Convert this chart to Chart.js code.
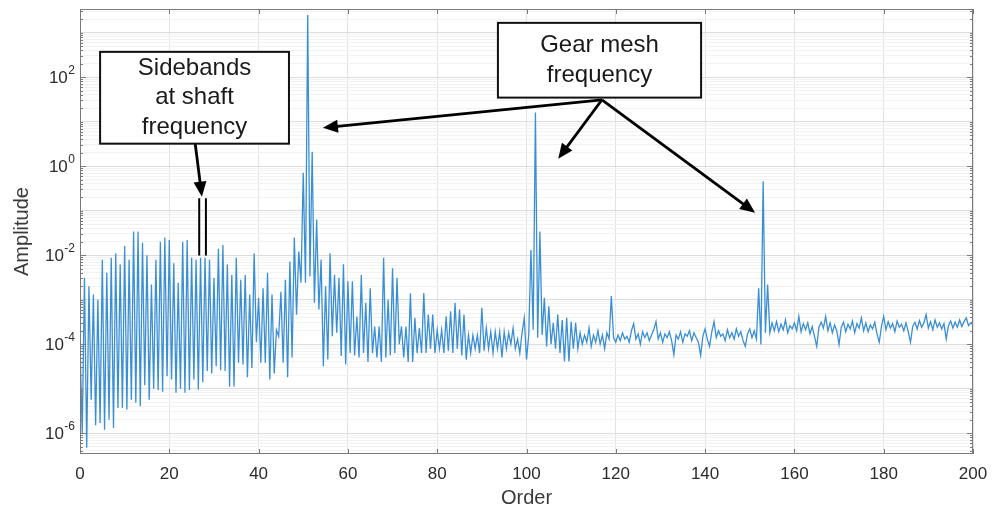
<!DOCTYPE html>
<html>
<head>
<meta charset="utf-8">
<title>Order spectrum</title>
<script src="https://cdn.jsdelivr.net/npm/chart.js@4.4.1/dist/chart.umd.min.js"></script>
<style>
  html, body { margin: 0; padding: 0; background: #fff; }
  #wrap { width: 1001px; height: 512px; position: relative; }
</style>
</head>
<body>
<div id="wrap"><canvas id="spectrum"></canvas></div>
<script>
// ── Data (one value every half order) ────────────────────────────
const ORDER_STEP   = 0.5;
const segmentStart = [0, 50, 100, 150];

// orders 0 – 49.5 : shaft-rate comb
const ampLowBand = [
  1e-4, 1e-6, 3.1e-3, 4.7e-7, 2.0e-3, 5.6e-6, 1.3e-3, 1.5e-6, 1.0e-3, 1.7e-6,
  7.9e-3, 1.2e-6, 4.0e-3, 2.0e-6, 8.7e-3, 1.3e-6, 1.1e-2, 3.7e-6, 6.2e-3, 3.7e-6,
  1.6e-2, 3.4e-6, 7.9e-3, 5.6e-6, 3.4e-2, 4.8e-6, 3.4e-2, 4.0e-6, 1.9e-2, 1.2e-5,
  1.0e-2, 5.6e-6, 2.2e-3, 1.0e-5, 7.9e-3, 9.3e-6, 2.0e-2, 8.5e-6, 2.5e-2, 1.9e-5,
  2.2e-2, 1.6e-5, 6.6e-3, 8.1e-6, 2.4e-3, 1.0e-5, 2.0e-2, 8.1e-6, 2.2e-2, 9.3e-6,
  8.7e-3, 1.6e-5, 7.9e-3, 9.5e-6, 8.7e-3, 1.4e-5, 8.7e-3, 2.5e-5, 7.9e-3, 2.2e-5,
  3.1e-3, 3.2e-5, 1.4e-2, 2.6e-5, 1.7e-2, 2.5e-5, 6.2e-3, 1.1e-5, 3.6e-3, 1.1e-5,
  8.7e-3, 3.8e-5, 2.8e-3, 3.5e-5, 3.6e-3, 1.8e-5, 1.3e-3, 2.9e-5, 1.1e-2, 1.1e-4,
  1.1e-3, 3.8e-5, 1.8e-3, 3.8e-5, 4.0e-3, 1.6e-5, 1.3e-3, 2.2e-5, 2.1e-4, 1.5e-4,
  1.5e-3, 3.8e-5, 2.8e-3, 1.8e-5, 7.2e-3, 5.0e-5, 2.5e-2, 4.6e-4, 1.2e-2, 2.4e-3
];

// orders 50 – 99.5 : 1st gear mesh harmonic
const ampMesh1 = [
  0.71, 2.4e-3, 2500, 3.3e-3, 2.1, 8.5e-4, 6.3e-2, 6.0e-4, 7.9e-3, 3.2e-5,
  2.0e-3, 4.5e-5, 1.1e-2, 1.5e-4, 3.6e-3, 1.8e-4, 3.1e-3, 5.4e-5, 6.2e-3, 3.5e-5,
  2.6e-3, 6.3e-5, 2.6e-3, 5.6e-5, 4.2e-4, 5.0e-5, 3.6e-3, 6.3e-5, 8.5e-4, 4.0e-5,
  1.8e-3, 6.3e-5, 2.5e-4, 5.0e-5, 2.5e-4, 4.0e-5, 8.7e-3, 5.0e-5, 1.0e-3, 5.6e-5,
  5.1e-3, 6.3e-5, 3.1e-3, 1.0e-4, 2.5e-4, 5.0e-5, 2.5e-4, 4.0e-5, 1.4e-3, 4.0e-5,
  3.9e-4, 6.3e-5, 2.3e-4, 6.3e-5, 1.4e-3, 6.3e-5, 4.6e-4, 7.9e-5, 4.6e-4, 6.3e-5,
  2.1e-4, 7.9e-5, 2.1e-4, 6.3e-5, 4.2e-4, 7.1e-5, 5.5e-4, 6.3e-5, 8.5e-4, 7.9e-5,
  6.0e-4, 5.6e-5, 4.6e-4, 4.5e-5, 1.6e-4, 6.3e-5, 1.6e-4, 7.9e-5, 1.6e-4, 6.3e-5,
  6.6e-4, 7.1e-5, 2.3e-4, 7.9e-5, 1.9e-4, 6.3e-5, 1.9e-4, 7.9e-5, 1.9e-4, 5.0e-5,
  1.9e-4, 7.9e-5, 1.8e-4, 1.0e-4, 2.3e-4, 7.9e-5, 1.3e-4, 6.3e-5, 1.8e-4, 3.9e-4
];

// orders 100 – 149.5 : 2nd harmonic and noise floor
const ampMesh2 = [
  4.5e-5, 1.6e-4, 1.3e-2, 2.1e-4, 16, 1.4e-4, 3.4e-2, 1.6e-4, 1.1e-3, 8.9e-5,
  7.1e-4, 1.0e-4, 3.0e-4, 7.9e-5, 4.6e-4, 6.3e-5, 3.5e-4, 4.1e-5, 3.9e-4, 4.1e-5,
  3.2e-4, 7.9e-5, 3.0e-4, 7.9e-5, 1.8e-4, 1.0e-4, 1.6e-4, 1.1e-4, 2.3e-4, 8.9e-5,
  1.6e-4, 1.1e-4, 2.0e-4, 1.0e-4, 1.6e-4, 7.9e-5, 1.8e-4, 1.3e-4, 1.2e-3, 1.4e-4,
  1.1e-4, 1.6e-4, 1.2e-4, 1.8e-4, 1.3e-4, 1.5e-4, 1.1e-4, 2.0e-4, 2.9e-4, 1.3e-4,
  1.7e-4, 1.0e-4, 1.9e-4, 1.4e-4, 1.8e-4, 1.2e-4, 1.6e-4, 2.1e-4, 3.2e-4, 1.3e-4,
  1.8e-4, 1.1e-4, 1.7e-4, 1.4e-4, 1.9e-4, 1.2e-4, 5.8e-5, 1.6e-4, 1.3e-4, 1.9e-4,
  1.1e-4, 1.7e-4, 1.5e-4, 2.0e-4, 1.2e-4, 1.8e-4, 1.4e-4, 1.1e-4, 5.6e-5, 1.5e-4,
  2.2e-4, 1.3e-4, 8.9e-5, 1.9e-4, 3.2e-4, 1.4e-4, 2.0e-4, 1.5e-4, 1.7e-4, 1.2e-4,
  2.1e-4, 1.4e-4, 1.8e-4, 1.3e-4, 2.2e-4, 1.5e-4, 1.9e-4, 1.2e-4, 8.9e-5, 1.7e-4
];

// orders 150 – 200 : 3rd harmonic and noise floor
const ampMesh3 = [
  2.2e-4, 1.4e-4, 2.0e-4, 1.3e-4, 1.8e-3, 9.8e-5, 0.46, 1.8e-4, 2.2e-3, 1.8e-4,
  3.0e-4, 2.0e-4, 3.2e-4, 1.9e-4, 2.8e-4, 2.1e-4, 3.5e-4, 1.8e-4, 2.6e-4, 2.2e-4,
  3.0e-4, 2.0e-4, 4.2e-4, 1.9e-4, 2.9e-4, 2.1e-4, 3.0e-4, 1.7e-4, 2.5e-4, 1.5e-4,
  8.9e-5, 2.4e-4, 3.1e-4, 2.3e-4, 4.2e-4, 2.0e-4, 3.0e-4, 1.8e-4, 2.7e-4, 2.0e-4,
  9.8e-5, 2.4e-4, 3.1e-4, 1.9e-4, 2.8e-4, 2.2e-4, 3.3e-4, 1.8e-4, 2.9e-4, 2.3e-4,
  3.9e-4, 2.0e-4, 3.0e-4, 1.9e-4, 2.7e-4, 2.2e-4, 3.1e-4, 1.7e-4, 1.1e-4, 2.5e-4,
  4.2e-4, 2.1e-4, 3.2e-4, 2.3e-4, 2.9e-4, 1.9e-4, 3.3e-4, 2.4e-4, 2.8e-4, 2.0e-4,
  3.0e-4, 1.9e-4, 1.1e-4, 2.5e-4, 3.1e-4, 2.2e-4, 3.4e-4, 2.4e-4, 3.0e-4, 4.6e-4,
  2.3e-4, 3.2e-4, 2.1e-4, 3.5e-4, 2.4e-4, 3.0e-4, 2.2e-4, 2.9e-4, 1.3e-4, 2.6e-4,
  3.3e-4, 2.3e-4, 3.1e-4, 2.4e-4, 3.5e-4, 2.5e-4, 3.2e-4, 3.9e-4, 2.6e-4, 3.0e-4,
  3.2e-4
];

const xTicks   = [0, 20, 40, 60, 80, 100, 120, 140, 160, 180, 200];
const yTickExp = [-6, -4, -2, 0, 2];
const yMin = 3.4e-7, yMax = 3.4e3;

const sidebandText = ['Sidebands', 'at shaft', 'frequency'];
const meshText     = ['Gear mesh', 'frequency'];

// ── Annotation placement (in order / amplitude units) ───────────
const notes = [
  { lines: sidebandText, box: [4.5, 46.8, 370, 3.2],
    arrows: [[25.8, 3.2, 27.3, 0.206]] },
  { lines: meshText, box: [93.6, 139.1, 1660, 34.7],
    arrows: [[116.9, 31, 54.4, 7.3], [116.9, 31, 107.1, 1.47], [116.9, 31, 151.2, 0.09]] }
];
const bracketOrders = [26.7, 28.2];
const bracketSpan   = [0.19, 0.0098];

const FONT = "'Liberation Sans', Arial, Helvetica, sans-serif";
const INK  = '#2b2b2b';
const AXIS = '#7a7a7a';

const points = [];
[ampLowBand, ampMesh1, ampMesh2, ampMesh3].forEach((amps, s) => {
  amps.forEach((a, i) => points.push({ x: segmentStart[s] + i * ORDER_STEP, y: a }));
});

const isDecade = v => { const e = Math.log10(v); return Math.abs(e - Math.round(e)) < 1e-9; };
const isLabelled = v => isDecade(v) && yTickExp.includes(Math.round(Math.log10(v)));

function drawArrow(ctx, x0, y0, x1, y1) {
  const ang = Math.atan2(y1 - y0, x1 - x0);
  const len = 15, half = 6.5;
  ctx.beginPath();
  ctx.moveTo(x0, y0);
  ctx.lineTo(x1 - Math.cos(ang) * len * 0.8, y1 - Math.sin(ang) * len * 0.8);
  ctx.stroke();
  ctx.beginPath();
  ctx.moveTo(x1, y1);
  ctx.lineTo(x1 - Math.cos(ang) * len - Math.sin(ang) * half, y1 - Math.sin(ang) * len + Math.cos(ang) * half);
  ctx.lineTo(x1 - Math.cos(ang) * len + Math.sin(ang) * half, y1 - Math.sin(ang) * len - Math.cos(ang) * half);
  ctx.closePath();
  ctx.fill();
}

const framePlugin = {
  id: 'frame',
  afterDraw(chart) {
    const { ctx, chartArea: a, scales: { x, y } } = chart;
    ctx.save();

    // inner tick marks + box
    ctx.strokeStyle = AXIS;
    ctx.lineWidth = 1;
    ctx.beginPath();
    xTicks.forEach(v => {
      const px = Math.round(x.getPixelForValue(v)) + 0.5;
      ctx.moveTo(px, a.bottom); ctx.lineTo(px, a.bottom - 5);
      ctx.moveTo(px, a.top);    ctx.lineTo(px, a.top + 5);
    });
    y.ticks.forEach(t => {
      const py = Math.round(y.getPixelForValue(t.value)) + 0.5;
      const len = isLabelled(t.value) ? 6 : 3;
      ctx.moveTo(a.left, py);  ctx.lineTo(a.left + len, py);
      ctx.moveTo(a.right, py); ctx.lineTo(a.right - len, py);
    });
    ctx.stroke();
    ctx.strokeRect(Math.round(a.left) + 0.5, Math.round(a.top) + 0.5,
                   Math.round(a.width) - 1, Math.round(a.height) - 1);

    // y tick labels: 10 with superscript exponent
    ctx.fillStyle = INK;
    ctx.textBaseline = 'middle';
    yTickExp.forEach(e => {
      const py = y.getPixelForValue(Math.pow(10, e));
      const sup = String(e);
      const right = a.left - 5;
      ctx.font = '12px ' + FONT;
      const sw = ctx.measureText(sup).width;
      ctx.textAlign = 'left';
      ctx.fillText(sup, right - sw, py - 6);
      ctx.font = '17px ' + FONT;
      ctx.textAlign = 'right';
      ctx.fillText('10', right - sw - 0.5, py + 1);
    });

    // annotations
    ctx.strokeStyle = '#000';
    ctx.fillStyle = '#000';
    ctx.lineWidth = 2.8;
    notes.forEach(n => {
      n.arrows.forEach(([o0, v0, o1, v1]) => {
        drawArrow(ctx, x.getPixelForValue(o0), y.getPixelForValue(v0),
                       x.getPixelForValue(o1), y.getPixelForValue(v1));
      });
    });
    ctx.lineWidth = 2;
    bracketOrders.forEach(o => {
      const px = x.getPixelForValue(o);
      ctx.beginPath();
      ctx.moveTo(px, y.getPixelForValue(bracketSpan[0]));
      ctx.lineTo(px, y.getPixelForValue(bracketSpan[1]));
      ctx.stroke();
    });
    notes.forEach(n => {
      const [o0, o1, vTop, vBot] = n.box;
      const l = x.getPixelForValue(o0), r = x.getPixelForValue(o1);
      const t = y.getPixelForValue(vTop), b = y.getPixelForValue(vBot);
      ctx.fillStyle = '#fff';
      ctx.fillRect(l, t, r - l, b - t);
      ctx.strokeStyle = '#111';
      ctx.lineWidth = 2;
      ctx.strokeRect(l, t, r - l, b - t);
      ctx.fillStyle = '#1a1a1a';
      ctx.font = '24px ' + FONT;
      ctx.textAlign = 'center';
      ctx.textBaseline = 'middle';
      const step = 29.5;
      const mid = (t + b) / 2;
      n.lines.forEach((s, i) => {
        ctx.fillText(s, (l + r) / 2, mid + (i - (n.lines.length - 1) / 2) * step);
      });
    });
    ctx.restore();
  }
};

new Chart(document.getElementById('spectrum'), {
  type: 'line',
  data: {
    datasets: [{
      data: points,
      borderColor: '#3a8fd4',
      borderWidth: 1.3,
      pointRadius: 0,
      tension: 0
    }]
  },
  options: {
    responsive: true,
    maintainAspectRatio: false,
    animation: false,
    layout: { padding: { left: 0, right: 28, top: 9, bottom: 0 } },
    plugins: { legend: { display: false }, tooltip: { enabled: false } },
    scales: {
      x: {
        type: 'linear', min: 0, max: 200,
        afterBuildTicks: s => { s.ticks = xTicks.map(v => ({ value: v })); },
        afterFit: s => { s.height = 58; },
        ticks: { font: { family: FONT, size: 17 }, color: INK, padding: 10, maxRotation: 0, autoSkip: false },
        grid: { color: '#e2e2e2', drawTicks: false },
        border: { display: false },
        title: { display: true, text: 'Order', color: '#3a3a3a',
                 font: { family: FONT, size: 20 }, padding: { top: 0, bottom: 2 } }
      },
      y: {
        type: 'logarithmic', min: yMin, max: yMax,
        afterBuildTicks: s => {
          const ticks = [];
          for (let e = -7; e <= 3; e++) {
            for (let m = 1; m <= 9; m++) {
              const v = m * Math.pow(10, e);
              if (v >= yMin && v <= yMax) ticks.push({ value: v });
            }
          }
          s.ticks = ticks;
        },
        afterFit: s => { s.width = 80; },
        ticks: { display: false },
        grid: {
          drawTicks: false,
          color: c => isDecade(c.tick.value) ? '#dcdcdc' : '#f2f2f2'
        },
        border: { display: false },
        title: { display: true, text: 'Amplitude', color: '#3a3a3a',
                 font: { family: FONT, size: 20 }, padding: { top: 10, bottom: 0 } }
      }
    }
  },
  plugins: [framePlugin]
});
</script>
</body>
</html>
